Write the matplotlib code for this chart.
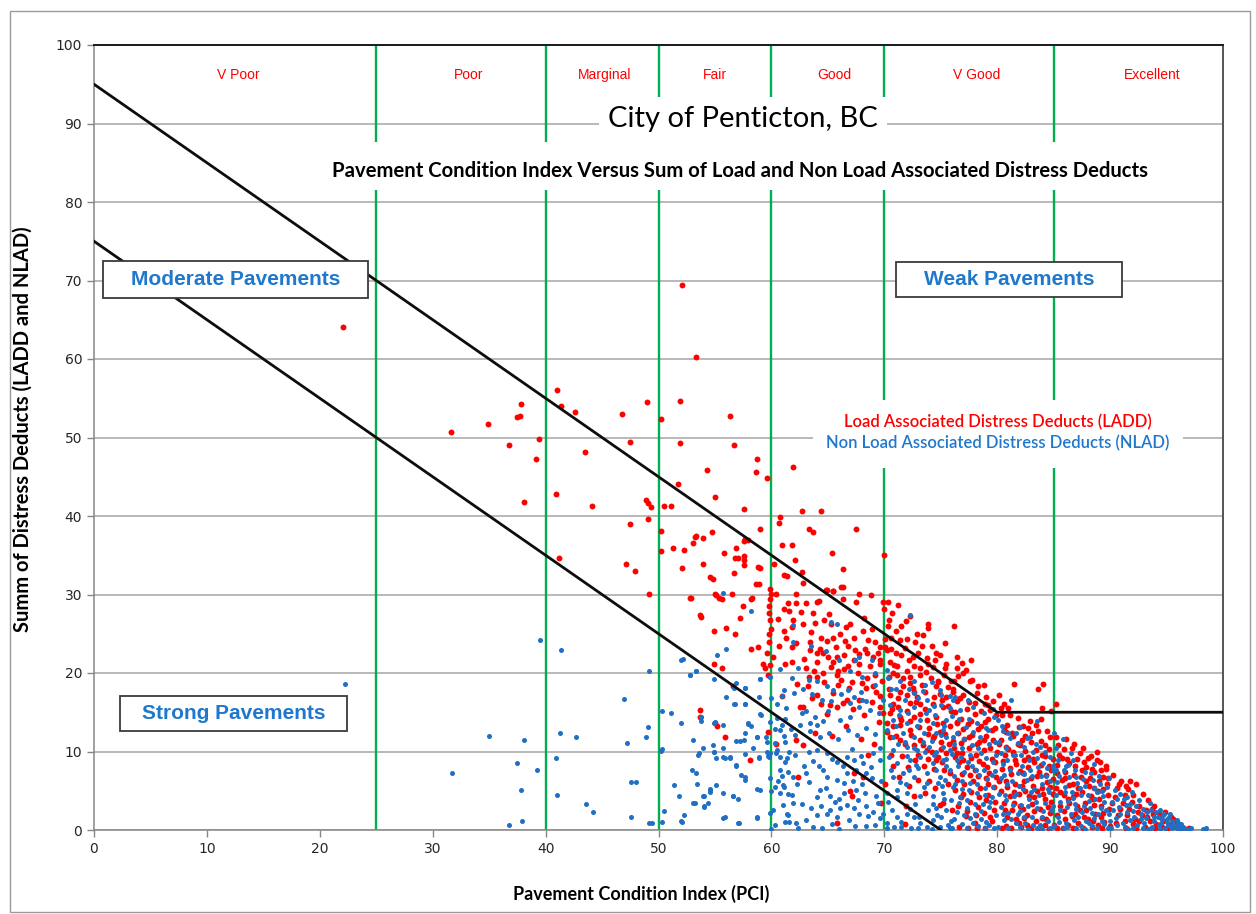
import matplotlib
matplotlib.use("Agg")
import matplotlib.pyplot as plt
from matplotlib.patches import Rectangle
import numpy as np

# ---------------- data ----------------
band_edges = [25, 40, 50, 60, 70, 85]
band_names = ["V Poor", "Poor", "Marginal", "Fair", "Good", "V Good", "Excellent"]
band_label_x = [12.75, 33.2, 45.2, 55.0, 65.6, 78.2, 93.7]

upper_line_x = [0, 80, 100]
upper_line_y = [95, 15, 15]
lower_line_x = [0, 75]
lower_line_y = [75, 0]

# LADD (red) - sparse upper points
ladd_x_sparse = [22.05, 31.6, 34.9, 36.8, 37.5, 37.7, 37.85, 38.05, 39.15, 39.4, 40.9, 41.0, 41.2, 41.4, 42.6,
                 43.5, 44.1, 46.8, 47.1, 47.5, 47.5, 47.9, 48.9, 49.0, 49.1, 49.1, 49.3, 49.2, 50.2, 50.2, 50.2,
                 50.5, 51.1, 51.3, 51.7, 51.9, 51.9, 52.05, 52.1, 52.3, 52.8, 53.3, 53.3, 53.2, 53.9, 53.1, 53.9,
                 54.3, 54.6, 54.8, 54.7, 55.0, 55.0, 55.4, 55.8, 56.3, 56.5, 56.7, 56.7, 56.8, 57.0, 56.9, 57.6,
                 57.6, 57.6, 57.6, 57.7, 57.9, 57.6, 58.3, 58.6, 58.7, 58.6, 58.9, 58.8, 59.0, 59.0, 59.6, 59.9,
                 60.0, 60.4, 60.2, 60.8, 60.7, 60.9, 61.8, 61.1, 61.4, 61.9, 62.1, 62.2, 62.7, 62.7, 62.8, 63.3,
                 63.7, 64.4, 64.8, 65.4, 65.5, 66.3, 66.3, 67.5, 67.8, 68.8, 70.0]
ladd_y_sparse = [64.1, 50.7, 51.7, 49.1, 52.6, 52.8, 54.3, 41.8, 47.2, 49.8, 42.8, 56.1, 34.6, 54.0, 53.3,
                 48.2, 41.3, 53.0, 33.9, 49.4, 39.0, 33.0, 42.0, 54.5, 41.6, 39.6, 41.2, 30.1, 52.4, 38.1, 35.5,
                 41.3, 41.3, 35.9, 44.1, 54.7, 49.3, 69.4, 33.4, 35.7, 29.6, 60.3, 37.5, 37.3, 37.2, 36.5, 33.9,
                 45.8, 32.2, 32.0, 38.0, 42.4, 30.1, 29.6, 35.3, 52.8, 30.1, 49.1, 32.8, 34.7, 34.7, 35.9, 34.9,
                 34.4, 33.7, 40.9, 37.1, 37.0, 36.8, 29.5, 45.6, 47.2, 31.3, 31.3, 33.5, 33.4, 38.3, 44.9, 30.7,
                 30.1, 30.1, 33.9, 39.9, 39.1, 36.3, 36.3, 32.5, 32.3, 46.3, 34.4, 30.1, 40.6, 32.9, 31.5, 38.3,
                 38.0, 40.7, 30.6, 35.3, 30.4, 33.2, 31.0, 38.3, 30.1, 30.0, 35.0]

# LADD (red) - middle region
ladd_x_mid = [52.9, 55.1, 55.6, 58.2, 59.9, 61.5, 62.2, 63.1, 64.0, 64.2, 66.3, 67.5, 64.9, 65.5, 66.2, 69.9,
              57.5, 53.7, 53.8, 57.2, 59.8, 59.8, 61.1, 61.9, 63.7, 63.9, 64.7, 65.3, 67.0, 70.4, 72.3, 73.9,
              73.9, 61.8, 61.1, 54.9, 56.0, 56.8, 58.2, 58.8, 59.6, 59.8, 60.7, 61.8, 62.2, 63.4, 64.4, 64.9,
              65.5, 66.1, 66.5, 66.8, 67.3, 68.1, 68.6, 69.2, 69.6, 70.1, 70.6, 71.4, 72.0, 73.8, 70.1, 70.2,
              68.3, 68.5, 69.0, 67.8, 66.4, 65.8, 65.0, 64.6, 64.0, 63.4, 64.0, 63.1, 63.3, 64.0, 64.6, 65.9,
              65.8, 66.8, 67.3, 67.8, 68.7, 69.6, 69.6, 70.5, 71.1, 72.0, 72.6, 73.2, 73.2, 72.3, 71.1, 70.8,
              70.4, 69.2, 74.3, 75.5, 75.4, 76.4, 59.3, 59.4, 61.2, 61.8, 55.6, 54.9, 65.5, 66.4, 63.2, 64.0,
              65.5, 65.9, 66.9, 68.0, 68.4, 69.0, 69.6, 70.5, 71.4, 71.7, 72.3, 72.6, 72.9, 73.6, 74.6, 74.9,
              75.5, 76.1, 76.4, 75.2, 74.3, 73.2, 72.3, 71.2, 70.8, 67.8, 66.7, 65.8, 64.9, 62.8, 62.5, 69.6,
              69.9, 70.5, 71.4, 72.0, 72.6, 73.2, 73.8, 74.6, 75.2, 75.8, 76.4, 70.8, 71.4, 70.2, 72.3, 74.0,
              74.9, 53.7, 53.7, 55.9, 55.0, 59.7, 62.2, 62.8, 58.1, 62.4, 67.1, 65.8, 67.0, 68.1, 67.3, 70.5,
              71.4, 72.6, 73.2, 73.8, 74.8, 74.6, 75.1, 75.5, 76.1, 76.4, 74.3, 72.7, 73.5, 73.6, 72.6, 73.0,
              70.8, 56.6, 55.2, 60.4, 60.9, 71.8, 59.9, 60.0, 59.8, 60.1, 59.9, 59.7]
ladd_y_mid = [29.5, 29.9, 29.4, 29.4, 29.4, 28.9, 28.9, 28.9, 29.0, 29.2, 29.4, 29.1, 30.6, 30.5, 30.9, 29.0,
              28.5, 27.4, 27.1, 27.0, 28.5, 27.6, 28.2, 26.7, 27.6, 26.4, 26.8, 26.3, 26.3, 26.7, 27.3, 26.3,
              25.7, 25.9, 25.3, 25.3, 25.7, 25.0, 23.0, 23.3, 22.5, 24.0, 23.4, 23.3, 23.8, 24.0, 24.5, 24.1,
              24.5, 25.0, 24.1, 23.4, 24.5, 25.4, 24.2, 23.9, 23.3, 24.3, 24.5, 24.2, 24.3, 21.9, 23.3, 22.9,
              23.0, 22.5, 22.1, 22.4, 22.3, 22.1, 22.0, 22.5, 22.5, 22.9, 21.4, 20.6, 19.5, 19.5, 20.0, 20.2,
              19.8, 20.9, 21.7, 21.2, 20.9, 21.2, 21.7, 21.4, 20.9, 20.2, 20.9, 20.6, 19.7, 19.5, 19.8, 20.0,
              19.5, 19.8, 20.8, 21.2, 20.6, 20.6, 21.2, 20.6, 21.2, 21.4, 20.6, 21.2, 21.4, 20.5, 18.4, 17.2,
              17.4, 18.5, 18.1, 18.7, 18.1, 18.4, 17.1, 17.2, 17.6, 18.3, 18.7, 17.6, 17.0, 17.6, 18.3, 17.3,
              17.0, 17.6, 16.4, 15.7, 16.1, 16.1, 16.2, 15.7, 16.1, 16.6, 16.6, 15.7, 14.8, 15.7, 15.7, 15.7,
              14.9, 14.9, 14.4, 15.1, 14.4, 14.8, 14.0, 14.4, 13.6, 13.2, 13.6, 13.2, 13.4, 12.5, 12.7, 13.0,
              12.5, 15.3, 14.4, 11.9, 13.6, 12.5, 11.5, 10.8, 8.9, 6.8, 4.3, 0.9, 5.0, 6.8, 7.2, 11.9,
              11.5, 10.8, 11.5, 10.2, 9.3, 8.9, 8.7, 9.8, 11.3, 9.8, 11.7, 8.9, 8.1, 4.7, 4.3, 6.4,
              8.1, 18.3, 13.3, 11.0, 17.1, 0.8, 26.8, 25.6, 25.0, 22.0, 21.0, 19.8]

# LADD (red) - dense right region
ladd_x_dense = [76.2, 75.4, 76.9, 77.7, 77.2, 77.8, 78.8, 76.1, 76.5, 77.0, 77.5, 78.2, 78.9, 79.4, 76.3, 76.8,
                77.4, 78.0, 78.6, 79.2, 79.8, 76.5, 77.1, 77.8, 78.4, 79.0, 79.6, 76.2, 76.9, 77.5, 78.1, 78.8,
                79.5, 76.6, 77.3, 78.0, 78.7, 79.3, 76.4, 77.1, 77.9, 78.5, 79.2, 79.9, 76.8, 77.6, 78.3, 79.0,
                79.7, 77.2, 78.0, 78.9, 79.5, 76.0, 75.2, 74.5, 75.8, 75.0, 74.4, 75.6, 74.8, 73.9, 74.6, 73.3,
                72.5, 71.8, 71.0, 72.9, 71.5, 70.7, 71.2, 70.3, 70.0,
                80.2, 80.6, 81.5, 83.6, 84.1, 84.0, 85.2, 84.8, 82.3, 81.3, 80.4, 80.9, 81.8, 82.5, 83.0, 83.6,
                84.2, 84.7, 80.3, 80.8, 81.4, 82.0, 82.7, 83.3, 84.0, 84.6, 80.5, 81.1, 81.7, 82.3, 83.0, 83.7,
                84.4, 80.2, 80.9, 81.5, 82.2, 82.8, 83.5, 84.2, 84.9, 80.6, 81.3, 82.0, 82.6, 83.3, 84.0, 84.7,
                80.4, 81.2, 82.1, 83.0, 83.8, 84.6, 85.3, 81.9, 80.0, 80.8, 82.9, 83.9, 81.0,
                85.4, 86.1, 86.8, 87.6, 88.3, 89.1, 88.8, 85.7, 86.4, 87.1, 87.9, 88.6, 89.4, 85.3, 86.0, 86.7,
                87.4, 88.1, 88.9, 89.7, 85.6, 86.3, 87.0, 87.8, 88.5, 89.2, 85.9, 86.6, 87.3, 88.0, 88.7, 89.5,
                85.8, 86.7, 87.6, 88.4, 89.3, 89.9,
                90.3, 91.0, 91.6, 92.3, 92.9, 93.4, 90.6, 91.3, 91.9, 92.6, 93.2, 93.8, 94.4, 90.2, 90.9, 91.5,
                92.2, 92.8, 93.5, 94.1, 94.7, 95.3, 95.8, 96.3, 90.5, 91.4, 92.3, 93.1, 94.0, 95.0, 94.9, 95.4,
                93.9, 95.9, 96.5, 91.8, 89.6]
ladd_y_dense = [26.0, 23.8, 21.3, 21.7, 20.4, 19.1, 18.5, 18.0, 19.6, 17.2, 16.3, 17.5, 16.0, 15.3, 15.0, 14.2,
                13.5, 14.8, 13.2, 14.1, 13.0, 12.4, 11.6, 12.1, 11.2, 12.0, 11.5, 10.5, 9.8, 10.4, 9.5, 10.2,
                9.0, 8.6, 8.0, 7.6, 8.4, 7.3, 6.4, 5.8, 6.2, 5.3, 5.9, 6.8, 4.2, 3.6, 2.9, 3.8,
                2.5, 1.8, 0.9, 0.3, 1.2, 2.6, 3.4, 5.4, 7.2, 11.2, 12.0, 15.8, 19.0, 21.2, 22.6, 23.4,
                22.0, 23.2, 22.6, 25.0, 26.0, 27.6, 28.6, 29.0, 28.2,
                17.2, 16.0, 18.6, 17.9, 18.6, 15.6, 16.0, 15.2, 13.2, 12.3, 14.6, 13.4, 14.3, 12.0, 11.2, 12.6,
                10.8, 11.9, 11.5, 10.6, 9.9, 10.8, 9.3, 8.6, 9.5, 8.2, 8.8, 7.9, 8.4, 7.2, 6.6, 7.4,
                6.1, 6.3, 5.5, 4.8, 5.6, 4.3, 5.0, 3.9, 4.6, 3.5, 2.6, 3.1, 1.9, 2.4, 1.5, 2.2,
                0.3, 0.2, 0.4, 0.2, 0.3, 0.1, 0.2, 0.9, 10.0, 12.5, 13.9, 14.2, 15.6,
                10.8, 11.6, 11.0, 10.4, 9.4, 8.7, 9.9, 9.2, 8.5, 9.0, 8.0, 7.4, 6.7, 7.3, 6.6, 5.9,
                6.8, 5.6, 5.0, 5.8, 4.8, 3.9, 4.6, 3.5, 4.0, 3.1, 2.4, 1.8, 2.6, 1.4, 2.1, 1.0,
                0.2, 0.3, 0.2, 0.4, 0.2, 2.7,
                7.0, 6.3, 5.2, 5.8, 4.6, 3.8, 5.4, 4.4, 3.6, 3.0, 2.6, 2.0, 1.6, 3.4, 2.7, 1.9,
                1.4, 1.9, 1.1, 0.8, 1.2, 0.7, 0.4, 0.2, 0.9, 0.3, 0.2, 0.4, 0.2, 0.1, 2.3, 1.6,
                3.0, 1.0, 0.3, 6.2, 7.8]

# LADD (red) - further points in the crowded cluster
ladd_x_cluster = [62.6, 63.5, 64.3, 65.1, 65.7, 66.6, 67.4, 68.2, 68.9, 69.4, 62.9, 63.8, 64.7, 65.3, 66.2, 67.1,
                  67.7, 68.5, 69.3, 69.8, 62.3, 63.6, 64.4, 65.2, 66.3, 67.2, 68.2, 68.9, 69.5, 66.6, 63.9, 65.4,
                  67.9, 69.1, 68.6, 61.3, 62.8, 60.6, 61.6,
                  70.3, 71.0, 71.9, 72.7, 73.4, 74.2, 74.9, 70.6, 71.5, 72.2, 73.0, 73.7, 74.5, 75.3, 75.9, 70.9,
                  71.7, 72.5, 73.3, 74.1, 74.8, 75.6, 70.4, 71.2, 72.0, 72.8, 73.6, 74.4, 75.1, 75.9, 70.7, 71.5,
                  72.3, 73.1, 73.9, 74.7, 75.4, 70.2, 71.0, 71.8, 72.4, 73.4, 74.2, 75.0, 75.7, 70.6, 71.6, 72.1,
                  73.0, 73.9, 74.4, 75.3, 71.3, 72.2, 74.0, 75.6, 74.9, 70.1, 69.7, 71.9,
                  76.4, 77.0, 77.6, 78.3, 79.0, 79.6, 76.2, 76.7, 77.3, 78.0, 78.6, 79.2, 79.9, 76.4, 77.0, 77.7,
                  78.3, 78.9, 79.5, 76.8, 77.5, 78.2, 78.8, 79.4, 76.3, 77.0, 77.7, 78.4, 79.1, 79.8, 76.9, 77.6,
                  78.3, 79.0, 79.7, 76.3, 77.0, 77.7, 78.4, 79.2, 79.8, 76.5, 77.3, 78.1, 78.8, 79.4, 76.6, 77.4,
                  78.2,
                  80.3, 81.1, 81.9, 82.7, 83.4, 84.4, 80.6, 81.4, 82.2, 83.1, 83.9, 84.6, 80.2, 81.0, 81.8, 82.5,
                  83.4, 84.2, 84.9, 80.7, 81.6, 82.4, 83.2, 83.9, 84.8, 80.4, 81.2, 82.0, 82.7, 83.5, 84.3, 84.9,
                  80.8, 81.6, 82.4, 83.2, 84.0, 84.7, 80.3, 81.1, 81.9, 82.5, 83.3, 84.1, 84.8, 80.7, 81.5, 82.3,
                  83.1, 83.8, 84.5, 80.9, 81.7, 82.4, 83.4, 84.3, 80.8, 82.6, 84.2, 85.0,
                  85.2, 85.9, 86.6, 87.3, 88.0, 88.8, 89.6, 85.5, 86.2, 86.9, 87.7, 88.4, 89.2, 85.3, 86.0, 86.8,
                  87.5, 88.2, 89.0, 89.8, 85.7, 86.4, 87.2, 87.9, 88.6, 89.4, 85.2, 85.9, 86.7, 87.5, 88.3, 89.0,
                  89.8, 85.6, 86.4, 87.1, 87.9, 88.6, 89.4, 85.3, 86.0, 86.9, 87.7, 88.5, 89.2, 86.3, 87.2, 88.9,
                  90.0, 90.8, 91.4, 92.0, 90.4, 91.1, 91.7, 92.5, 90.7, 91.3, 92.0, 92.6, 93.3, 93.7, 94.3, 94.6,
                  95.6, 96.0, 96.8, 97.0]
ladd_y_cluster = [27.8, 25.2, 23.1, 27.5, 23.3, 25.9, 22.9, 27.0, 25.6, 22.6, 21.8, 20.3, 18.9, 20.8, 19.1, 18.8,
                  20.0, 19.4, 17.6, 19.0, 18.6, 16.8, 16.0, 15.9, 16.2, 15.4, 14.6, 16.3, 13.8, 13.2, 12.4, 12.0,
                  11.6, 10.9, 9.6, 24.4, 26.2, 26.9, 27.9,
                  26.0, 25.4, 26.6, 24.0, 24.9, 23.4, 22.3, 23.0, 22.3, 21.6, 22.6, 20.1, 21.6, 19.8, 19.0, 21.0,
                  19.4, 18.1, 18.5, 19.3, 18.8, 18.2, 18.0, 16.8, 17.2, 16.3, 15.4, 17.0, 16.6, 15.2, 15.4, 14.0,
                  13.9, 13.1, 12.2, 13.5, 12.2, 13.6, 12.0, 10.9, 12.1, 10.8, 9.9, 10.3, 11.0, 9.6, 9.4, 8.0,
                  9.6, 9.0, 7.8, 7.7, 6.8, 5.6, 6.3, 5.8, 3.2, 5.9, 3.5, 3.0,
                  22.1, 20.0, 19.0, 18.3, 17.0, 16.4, 19.0, 16.8, 15.4, 16.2, 15.1, 15.9, 14.7, 13.8, 12.9, 13.9,
                  12.9, 13.7, 12.7, 11.1, 11.9, 10.9, 11.5, 10.4, 9.3, 8.9, 9.2, 8.8, 8.0, 8.6, 7.1, 7.0,
                  6.9, 6.6, 5.5, 5.1, 4.6, 4.9, 4.2, 4.5, 3.6, 3.0, 2.4, 1.9, 2.2, 1.6, 0.4, 0.2,
                  0.3,
                  15.6, 14.6, 13.1, 13.0, 13.4, 12.6, 13.0, 12.0, 11.5, 12.3, 11.4, 10.3, 10.9, 10.3, 10.9, 10.1,
                  10.2, 9.4, 9.1, 9.6, 8.9, 8.9, 9.0, 8.3, 7.7, 7.8, 7.1, 7.5, 8.0, 6.9, 7.0, 6.5,
                  6.2, 5.9, 6.3, 5.6, 5.4, 5.5, 5.0, 4.3, 4.6, 5.0, 4.2, 4.6, 3.6, 2.6, 3.4, 2.7,
                  3.3, 2.7, 2.9, 1.6, 1.4, 1.5, 1.2, 1.4, 0.5, 0.6, 0.6, 0.7,
                  11.8, 10.3, 10.5, 9.8, 9.2, 8.9, 8.2, 9.5, 9.0, 8.1, 8.6, 7.8, 7.6, 8.3, 7.4, 7.0,
                  7.6, 6.6, 6.3, 6.6, 6.4, 5.7, 5.4, 6.2, 5.4, 5.2, 5.4, 4.5, 4.2, 4.8, 4.3, 4.0,
                  4.4, 3.1, 3.4, 3.0, 2.6, 3.2, 2.2, 1.9, 1.4, 2.1, 1.6, 1.1, 1.6, 0.6, 0.9, 0.7,
                  0.5, 5.9, 5.6, 4.5, 4.2, 3.5, 2.7, 2.3, 1.9, 1.1, 0.8, 1.1, 1.6, 2.7, 2.2, 0.4,
                  1.4, 0.6, 0.1, 0.2]

# NLAD (blue) - sparse left points
nlad_x_sparse = [22.2, 39.5, 41.4, 35.0, 38.1, 41.3, 42.7, 31.7, 37.5, 39.2, 40.9, 37.8, 41.0, 43.6, 44.2, 37.9,
                 36.8, 46.9, 47.2, 47.6, 48.0, 47.6, 49.1, 48.9, 49.2, 49.2, 49.4, 50.3, 51.1, 50.2, 50.3, 52.0,
                 52.2, 52.8, 53.3, 51.4, 51.8, 50.5, 50.3, 52.0, 52.3, 52.1, 53.0, 53.3, 53.4, 53.2, 53.9, 54.4,
                 54.0, 54.6, 54.6, 55.1, 53.6, 53.9, 54.9, 54.8, 55.1, 55.7, 55.9, 56.3, 55.0, 55.7, 53.8, 53.8,
                 55.2, 56.0, 55.7, 54.9, 56.9, 57.7, 56.7, 57.7, 58.9, 59.0, 57.9, 57.7, 56.9, 57.6, 58.7, 58.4,
                 57.7, 58.9, 58.9, 59.6, 59.6, 59.8, 59.9, 56.9, 56.9, 57.3, 57.7, 58.7, 56.6, 57.0, 55.9, 57.0,
                 58.7, 59.9, 59.9, 58.2, 59.0, 59.9, 59.9, 60.0, 60.5, 60.3, 60.9, 61.1, 61.2, 61.1, 61.2, 60.5,
                 60.8, 60.9, 61.0, 60.3, 61.4, 61.5, 61.9, 61.5, 61.2, 61.9, 61.9, 62.4]
nlad_y_sparse = [18.6, 24.2, 22.9, 12.0, 11.5, 12.4, 11.8, 7.3, 8.5, 7.6, 9.2, 5.05, 4.5, 3.3, 2.3, 1.2,
                 0.6, 16.7, 11.1, 6.1, 6.1, 1.7, 13.1, 11.8, 20.2, 0.85, 0.85, 15.2, 14.9, 10.1, 10.3, 13.6,
                 21.8, 19.7, 20.2, 5.7, 4.3, 2.4, 1.0, 1.2, 1.9, 0.97, 7.6, 7.3, 5.9, 3.4, 4.3, 3.4,
                 2.9, 5.2, 4.9, 5.7, 9.8, 10.4, 9.9, 10.8, 9.2, 10.4, 9.2, 9.2, 13.7, 13.4, 14.4, 13.9,
                 22.3, 23.0, 30.2, 19.2, 18.7, 18.1, 16.0, 16.0, 16.9, 14.8, 13.5, 12.4, 11.3, 11.5, 11.8, 10.4,
                 9.7, 9.3, 9.2, 11.2, 9.9, 9.3, 9.8, 8.3, 8.1, 7.0, 6.8, 5.2, 4.3, 3.95, 1.6, 0.85,
                 1.6, 2.2, 6.6, 27.9, 19.2, 19.5, 13.8, 16.8, 16.1, 12.9, 17.1, 17.8, 14.2, 12.0, 11.2, 10.2,
                 7.6, 6.9, 5.7, 5.5, 9.2, 4.6, 3.4, 1.9, 1.0, 23.9, 26.1, 20.6]

# NLAD (blue) - middle region
nlad_x_mid = [65.8, 65.3, 67.4, 67.8, 68.9, 52.0, 52.8, 53.3, 59.0, 59.9, 57.7, 56.7, 60.8, 61.8, 63.3, 64.0,
              64.9, 65.5, 66.8, 67.3, 68.0, 69.2, 68.4, 67.8, 67.0, 66.1, 65.0, 64.6, 63.9, 63.4, 64.0, 63.1,
              62.7, 62.1, 60.8, 60.3, 59.5, 59.1, 58.2, 57.9, 57.7, 56.8, 56.0, 54.9, 53.8, 53.1, 53.5, 54.9,
              55.7, 56.3, 57.2, 58.7, 59.7, 60.8, 61.6, 63.3, 64.0, 64.9, 65.8, 66.7, 67.3, 68.1, 69.0, 69.6,
              68.4, 67.5, 66.7, 65.8, 64.9, 64.2, 63.1, 61.9, 61.1, 60.8, 59.0, 57.7, 56.6, 55.7, 54.6, 54.0,
              53.1, 54.0, 55.7, 57.1, 58.7, 61.4, 62.2, 63.1, 64.0, 64.9, 65.8, 66.1, 66.7, 67.3, 67.8, 68.4,
              69.0, 69.6, 69.9, 70.2, 71.1, 72.0, 72.6, 73.2, 73.8, 74.3, 66.4, 65.2, 64.3, 67.5, 68.3, 69.3,
              70.2, 71.1, 72.0, 73.2, 74.3, 75.2, 76.1, 70.8, 71.7, 72.6, 73.8, 74.9, 75.8, 71.1, 72.3, 73.2,
              74.3, 75.5, 76.4, 70.8, 72.0, 72.9, 74.0, 75.2, 76.1, 70.8, 71.7, 72.6, 73.5, 74.6, 75.5, 70.8,
              72.0, 73.2, 74.3, 75.5, 71.4, 72.6, 74.0, 75.8, 69.9, 72.6, 73.8, 74.9, 76.1, 72.3,
              60.0, 62.4, 64.5, 66.0, 68.4, 70.2, 71.5, 73.0, 74.2, 75.8, 60.0, 60.1]
nlad_y_mid = [26.3, 26.5, 21.7, 22.1, 21.7, 21.7, 19.7, 20.2, 19.2, 19.5, 18.1, 18.1, 20.5, 19.3, 19.1, 19.0,
              18.3, 17.8, 17.8, 17.0, 16.6, 18.5, 16.4, 15.7, 14.4, 14.0, 15.1, 13.9, 14.4, 13.6, 13.4, 15.1,
              14.9, 12.1, 12.7, 11.1, 11.9, 14.7, 13.2, 13.6, 16.1, 16.1, 17.0, 13.6, 14.4, 11.5, 9.6, 10.0,
              9.3, 9.3, 11.3, 11.9, 9.4, 9.3, 10.0, 9.9, 10.2, 9.8, 8.7, 9.3, 8.9, 8.5, 9.8, 8.9,
              7.2, 7.6, 7.2, 6.4, 6.8, 8.1, 7.2, 6.8, 5.5, 4.7, 5.1, 6.4, 4.3, 4.7, 5.1, 4.3,
              3.4, 3.0, 1.5, 0.85, 1.5, 2.1, 0.85, 1.3, 1.9, 2.1, 1.7, 2.8, 3.2, 2.8, 2.1, 3.0,
              2.3, 1.5, 2.1, 0.85, 1.7, 2.1, 1.7, 0.85, 0.4, 1.3, 4.7, 4.3, 5.1, 5.1, 4.7, 4.3,
              4.7, 5.1, 4.7, 4.3, 4.3, 4.7, 5.5, 6.8, 7.2, 6.8, 7.2, 6.8, 7.6, 8.5, 8.9, 9.3,
              8.5, 8.1, 8.9, 10.2, 10.6, 10.2, 10.6, 10.6, 11.9, 11.9, 12.3, 11.9, 12.3, 12.3, 11.9, 14.0,
              13.6, 14.0, 13.6, 14.0, 15.3, 15.7, 15.3, 15.5, 16.6, 17.4, 16.6, 17.8, 16.6, 27.4,
              0.1, 0.2, 0.3, 0.1, 0.5, 0.2, 0.4, 0.2, 0.1, 0.2, 5.0, 2.5]

# NLAD (blue) - dense right region
nlad_x_dense = [76.3, 77.4, 77.9, 78.8, 79.7, 76.6, 77.2, 77.9, 78.5, 79.2, 79.8, 76.2, 76.9, 77.6, 78.3, 79.0,
                79.6, 76.5, 77.1, 77.8, 78.4, 79.1, 79.8, 76.3, 76.9, 77.6, 78.2, 78.9, 79.5, 76.6, 77.3, 78.0,
                78.6, 79.3, 79.9, 76.2, 76.9, 77.6, 78.3, 79.0, 79.7, 75.6, 75.0, 74.6, 75.3, 74.8, 75.5, 74.6,
                75.2, 74.4, 75.0, 73.6, 73.0, 72.2, 71.4, 70.6, 70.2, 69.2, 68.0, 67.0, 66.0, 64.8, 63.5,
                80.1, 81.2, 83.5, 82.0, 82.9, 83.8, 84.7, 80.5, 81.1, 81.7, 82.4, 83.2, 84.1, 80.3, 80.9, 81.6,
                82.2, 82.9, 83.6, 84.3, 84.9, 80.6, 81.3, 81.9, 82.6, 83.3, 84.0, 84.6, 80.2, 80.8, 81.5, 82.1,
                82.8, 83.5, 84.2, 84.8, 80.5, 81.2, 81.8, 82.5, 83.1, 83.8, 84.5, 80.1, 81.0, 82.7, 84.0, 85.0,
                85.4, 86.7, 86.3, 85.9, 87.0, 87.8, 88.5, 89.1, 89.7, 85.2, 85.8, 86.5, 85.3, 86.0, 86.6, 87.3,
                88.0, 88.7, 89.4, 85.6, 86.2, 86.9, 87.5, 88.2, 88.9, 89.6, 85.4, 86.1, 86.8, 87.4, 88.1, 88.8,
                89.5, 85.9, 87.8, 85.0, 88.6,
                90.4, 91.5, 92.6, 93.5, 94.4, 95.3, 95.9, 96.5, 96.8, 98.5, 98.4, 98.2, 90.2, 90.8, 91.4, 92.0,
                92.7, 93.3, 93.9, 94.6, 95.0, 95.6, 96.1, 90.5, 91.1, 91.8, 92.4, 93.0, 93.7, 94.3, 94.9, 95.5,
                96.2, 96.7, 90.1, 91.6, 93.4, 95.2, 94.8, 96.0, 90.9, 91.9, 89.9]
nlad_y_dense = [17.0, 16.6, 15.7, 14.9, 14.4, 14.2, 13.1, 12.5, 11.8, 12.7, 11.2, 11.0, 10.4, 9.6, 10.5, 9.2,
                8.6, 8.1, 7.4, 8.2, 7.0, 6.5, 7.5, 5.9, 5.2, 6.0, 4.7, 5.4, 4.2, 3.5, 2.8, 3.3,
                2.4, 2.9, 1.9, 1.4, 0.8, 1.5, 0.5, 1.0, 0.3, 0.6, 1.6, 2.8, 4.0, 6.0, 9.0, 10.0,
                12.8, 15.8, 17.2, 18.5, 16.8, 18.0, 19.0, 18.0, 20.4, 20.0, 19.5, 20.3, 21.6, 22.8, 23.5,
                14.0, 16.6, 13.9, 13.1, 11.9, 10.6, 9.3, 12.6, 11.7, 12.4, 10.6, 9.9, 8.5, 9.8, 8.9, 9.6,
                8.2, 7.6, 8.0, 6.9, 7.6, 7.0, 6.3, 5.6, 6.4, 5.2, 5.8, 4.9, 4.6, 3.8, 4.3, 3.2,
                3.9, 2.8, 3.4, 2.6, 2.1, 1.4, 2.0, 0.9, 1.6, 0.6, 1.1, 0.4, 0.2, 0.1, 0.1, 0.5,
                8.9, 8.9, 8.3, 7.6, 6.8, 7.4, 6.4, 5.9, 5.5, 10.4, 11.6, 9.8, 6.1, 5.5, 4.8, 5.4,
                4.5, 3.9, 4.3, 3.6, 2.9, 3.3, 2.3, 2.8, 2.0, 2.5, 1.6, 0.9, 1.3, 0.5, 0.9, 0.3,
                0.8, 0.2, 0.1, 12.4, 8.4,
                5.1, 4.2, 3.8, 3.4, 2.5, 2.1, 1.3, 0.4, 0.0, 0.2, 0.0, 0.1, 3.6, 2.9, 3.2, 2.4,
                2.0, 2.3, 1.7, 1.4, 1.0, 0.7, 0.5, 1.5, 0.9, 1.3, 0.6, 0.9, 0.4, 0.6, 0.3, 0.2,
                0.1, 0.1, 0.3, 0.1, 0.1, 1.6, 2.0, 0.9, 4.6, 4.9, 6.6]

# NLAD (blue) - further points in the crowded cluster
nlad_x_cluster = [60.5, 61.3, 62.0, 62.8, 63.6, 64.5, 65.3, 66.2, 67.0, 67.9, 68.7, 69.5, 60.9, 61.7, 62.5, 63.4,
                  64.3, 65.1, 65.9, 66.8, 67.6, 68.4, 69.2, 60.4, 61.2, 62.1, 62.9, 63.7, 64.6, 65.4, 66.3, 67.1,
                  67.9, 68.8, 69.6, 60.6, 61.5, 62.3, 63.3, 64.0, 64.8, 65.6, 66.4, 67.2, 68.0, 68.9, 69.7, 61.0,
                  61.8, 62.7, 63.5, 64.4, 65.2, 66.0, 66.9, 67.7, 68.6, 69.4, 60.3, 61.6, 63.7, 65.4, 67.4, 69.2,
                  70.3, 71.0, 71.8, 72.6, 73.4, 74.2, 75.0, 75.8, 70.5, 71.3, 72.1, 72.9, 73.7, 74.5, 75.3, 76.0,
                  70.2, 71.0, 71.8, 72.6, 73.4, 74.2, 75.0, 75.8, 70.4, 71.2, 72.0, 72.8, 73.6, 74.4, 75.2, 76.0,
                  70.6, 71.4, 72.2, 73.0, 73.8, 74.6, 75.4, 70.3, 71.1, 71.9, 72.7, 73.5, 74.3, 75.1, 75.9, 70.7,
                  71.5, 72.3, 73.1, 73.9, 74.7, 75.5, 70.9, 72.4, 74.9, 75.9,
                  76.7, 77.5, 78.2, 79.0, 79.6, 76.4, 77.1, 77.8, 78.6, 79.3, 79.9, 76.8, 77.4, 78.1, 78.8, 79.5,
                  76.2, 76.9, 77.5, 78.2, 78.9, 79.6, 76.7, 77.3, 78.0, 78.7, 79.4, 76.4, 77.1, 77.9, 78.6, 79.3,
                  76.0, 77.3, 78.9,
                  80.4, 81.0, 81.8, 82.6, 83.4, 84.2, 84.9, 80.2, 80.8, 81.4, 82.1, 82.8, 83.5, 84.4, 85.2, 80.5,
                  81.1, 81.8, 82.4, 83.1, 83.9, 84.7, 85.5, 80.3, 80.9, 81.7, 82.3, 83.0, 83.7, 84.5, 85.2, 80.7,
                  81.4, 82.0, 82.7, 83.4, 84.1, 84.9, 85.6, 80.3, 81.0, 81.7, 82.4, 83.2, 84.0, 84.7, 85.5, 80.6,
                  82.0, 83.5,
                  86.1, 86.9, 87.6, 88.3, 89.0, 86.4, 87.1, 87.8, 88.6, 89.3, 86.0, 86.7, 87.4, 88.1, 88.8, 89.5,
                  86.3, 87.0, 87.7, 88.4, 89.2, 89.9, 86.5, 87.2, 87.9, 88.6, 89.3, 90.0, 86.2, 87.0, 88.4, 89.8,
                  90.6, 91.2, 91.8, 92.3, 92.9, 93.6, 94.1, 94.7, 90.3, 90.9, 91.5, 92.1, 92.7, 93.2, 93.9, 94.5,
                  95.1, 95.8, 96.4, 90.6, 91.3, 92.0, 92.9, 93.6, 94.4, 95.4, 96.0, 97.0, 97.2, 94.2, 95.0, 95.5,
                  96.3]
nlad_y_cluster = [14.3, 15.6, 17.5, 18.0, 17.3, 16.6, 16.4, 17.3, 16.2, 17.6, 15.3, 14.9, 13.4, 12.9, 13.4, 12.6,
                  11.8, 12.4, 11.6, 12.8, 12.1, 13.0, 12.2, 9.8, 8.6, 9.6, 8.2, 8.8, 7.6, 9.0, 8.1, 10.3,
                  9.4, 8.0, 10.5, 6.3, 7.4, 5.8, 6.1, 4.2, 5.3, 3.6, 6.0, 6.2, 5.9, 6.6, 6.2, 3.2,
                  4.4, 3.3, 2.8, 3.0, 2.5, 3.9, 1.3, 3.8, 1.8, 3.4, 0.6, 1.0, 0.4, 0.8, 0.5, 0.6,
                  19.4, 17.9, 16.6, 19.0, 17.7, 18.9, 15.9, 17.1, 15.9, 14.7, 14.9, 13.2, 14.9, 14.6, 13.3, 14.5,
                  12.7, 13.2, 11.2, 10.4, 11.2, 11.4, 12.1, 10.2, 9.3, 10.9, 9.4, 8.3, 9.9, 9.6, 8.9, 9.7,
                  7.7, 6.1, 7.7, 7.9, 6.0, 7.6, 6.4, 3.6, 4.2, 5.8, 3.3, 5.5, 3.3, 5.6, 3.8, 2.6,
                  1.0, 2.7, 1.6, 2.6, 1.9, 2.5, 0.4, 0.2, 0.4, 1.2,
                  15.3, 14.1, 13.6, 13.0, 15.4, 12.3, 11.6, 10.8, 9.8, 10.9, 9.6, 9.3, 8.6, 7.6, 7.6, 7.0,
                  6.9, 6.2, 5.1, 5.9, 4.4, 5.5, 4.2, 3.8, 2.1, 3.3, 3.6, 2.3, 1.9, 0.9, 1.4, 0.6,
                  0.2, 0.3, 0.2,
                  13.3, 12.4, 11.1, 11.7, 10.9, 9.9, 8.2, 11.2, 10.5, 9.6, 9.6, 8.9, 9.2, 7.9, 7.6, 8.4,
                  7.7, 7.2, 7.1, 6.9, 6.9, 6.2, 6.9, 6.6, 5.9, 4.6, 5.2, 4.8, 4.5, 5.2, 4.5, 4.4,
                  3.2, 2.4, 3.1, 3.6, 2.4, 3.1, 2.6, 2.9, 2.2, 0.9, 1.7, 0.6, 1.7, 0.3, 1.0, 1.3,
                  0.4, 0.2,
                  8.1, 7.7, 6.5, 7.3, 6.9, 6.8, 6.0, 5.6, 5.4, 5.0, 4.8, 4.1, 4.4, 3.7, 4.8, 3.6,
                  3.7, 2.7, 3.0, 2.2, 2.8, 2.0, 2.1, 1.6, 1.2, 1.5, 1.2, 1.1, 0.4, 0.3, 0.5, 0.3,
                  3.9, 4.0, 3.3, 3.0, 2.7, 2.5, 2.3, 1.9, 2.6, 2.0, 2.3, 1.6, 1.4, 1.5, 1.1, 0.9,
                  0.6, 0.4, 0.3, 0.6, 0.4, 0.2, 0.3, 0.2, 0.1, 0.4, 0.1, 0.1, 0.3, 1.6, 1.4, 1.1,
                  0.8]

ladd_x = ladd_x_sparse + ladd_x_mid + ladd_x_dense + ladd_x_cluster
ladd_y = ladd_y_sparse + ladd_y_mid + ladd_y_dense + ladd_y_cluster
nlad_x = nlad_x_sparse + nlad_x_mid + nlad_x_dense + nlad_x_cluster
nlad_y = nlad_y_sparse + nlad_y_mid + nlad_y_dense + nlad_y_cluster

# ---------------- styling ----------------
RED = "#FF0000"
BLUE = "#1F70C4"
TXT_BLUE = "#1F78CC"
GREEN = "#00B050"
GRID = "#A6A6A6"
CAL = ["Lato", "DejaVu Sans"]
ARIAL = ["Liberation Sans", "DejaVu Sans"]

fig = plt.figure(figsize=(12.56, 9.14), dpi=100)
fig.patch.set_facecolor("white")
fig.patches.append(Rectangle((10 / 1256, 1 - 912 / 914), 1240 / 1256, 901 / 914,
                             transform=fig.transFigure, fill=False,
                             edgecolor="#9A9A9A", linewidth=1.0))

ax = fig.add_axes([94 / 1256, 1 - 830 / 914, 1129 / 1256, 785 / 914])
ax.set_xlim(0, 100)
ax.set_ylim(0, 100)
ax.set_xticks(np.arange(0, 101, 10))
ax.set_yticks(np.arange(0, 101, 10))
ax.tick_params(axis="both", labelsize=10, labelcolor="#262626", color="#868686",
               length=5, width=1, direction="out")
ax.yaxis.grid(True, color=GRID, linewidth=1.1, zorder=0)
ax.set_axisbelow(True)
for side in ["left", "bottom"]:
    ax.spines[side].set_color("#868686")
    ax.spines[side].set_linewidth(1.1)
ax.spines["top"].set_color("#1a1a1a")
ax.spines["top"].set_linewidth(1.4)
ax.spines["right"].set_color("#555555")
ax.spines["right"].set_linewidth(1.4)

# band boundaries
for xb in band_edges:
    ax.axvline(xb, color=GREEN, linewidth=1.7, zorder=2)

# scatter series
ax.scatter(ladd_x, ladd_y, s=18, color=RED, linewidths=0, zorder=3)
ax.scatter(nlad_x, nlad_y, s=13, color=BLUE, linewidths=0, zorder=3)

# strength zone lines
ax.plot(upper_line_x, upper_line_y, color="#0d0d0d", linewidth=2.0, zorder=4)
ax.plot(lower_line_x, lower_line_y, color="#0d0d0d", linewidth=2.0, zorder=4)

# band labels
for nm, xl in zip(band_names, band_label_x):
    ax.text(xl, 96.2, nm, color=RED, fontsize=10, family=ARIAL,
            ha="center", va="center", zorder=6)

# white masking boxes (pixel geometry of the reference)
def px_box(x0, y0, x1, y1, edge=None, lw=0):
    xa0 = (x0 - 94) / 1129
    xa1 = (x1 - 94) / 1129
    ya0 = (830 - y1) / 785
    ya1 = (830 - y0) / 785
    r = Rectangle((xa0, ya0), xa1 - xa0, ya1 - ya0, transform=ax.transAxes,
                  facecolor="white", edgecolor=edge if edge else "none",
                  linewidth=lw, zorder=5, clip_on=False)
    ax.add_patch(r)
    return ((xa0 + xa1) / 2, (ya0 + ya1) / 2)

# title box and subtitle box
tc = px_box(599, 97, 887, 142)
ax.text(tc[0], tc[1], "City of Penticton, BC", transform=ax.transAxes,
        fontsize=21, family=CAL, ha="center", va="center", zorder=6, color="black")
sc = px_box(326, 142, 1154, 190)
ax.text(sc[0], sc[1] - 0.006, "Pavement Condition Index Versus Sum of Load and Non Load Associated Distress Deducts",
        transform=ax.transAxes, fontsize=14.6, fontweight="bold", family=CAL,
        ha="center", va="center", zorder=6, color="black")

# legend text box
lc = px_box(813, 400, 1183, 468)
ax.text(lc[0], (830 - 422) / 785, "Load Associated Distress Deducts (LADD)", transform=ax.transAxes,
        fontsize=12, fontweight="semibold", family=CAL, ha="center", va="center", zorder=6, color=RED)
ax.text(lc[0], (830 - 443) / 785, "Non Load Associated Distress Deducts (NLAD)", transform=ax.transAxes,
        fontsize=12, fontweight="semibold", family=CAL, ha="center", va="center", zorder=6, color=TXT_BLUE)

# zone boxes
for (x0, y0, x1, y1, label) in [(103, 261, 368, 298, "Moderate Pavements"),
                                 (896, 262, 1122, 297, "Weak Pavements"),
                                 (120, 696, 347, 731, "Strong Pavements")]:
    c = px_box(x0, y0, x1, y1, edge="#3a3a3a", lw=1.3)
    ax.text(c[0], c[1], label, transform=ax.transAxes, fontsize=15, fontweight="bold",
            family=ARIAL, color=TXT_BLUE, ha="center", va="center", zorder=6)

# axis labels
ax.set_xlabel("Pavement Condition Index (PCI)", fontsize=13, fontweight="bold", family=CAL)
ax.xaxis.set_label_coords((641 - 94) / 1129, (830 - 885) / 785)
ax.set_ylabel("Summ of Distress Deducts (LADD and NLAD)", fontsize=14.5, fontweight="bold", family=CAL)
ax.yaxis.set_label_coords((33 - 94) / 1129, 0.51)

fig.savefig("out.png", dpi=100, facecolor="white")
